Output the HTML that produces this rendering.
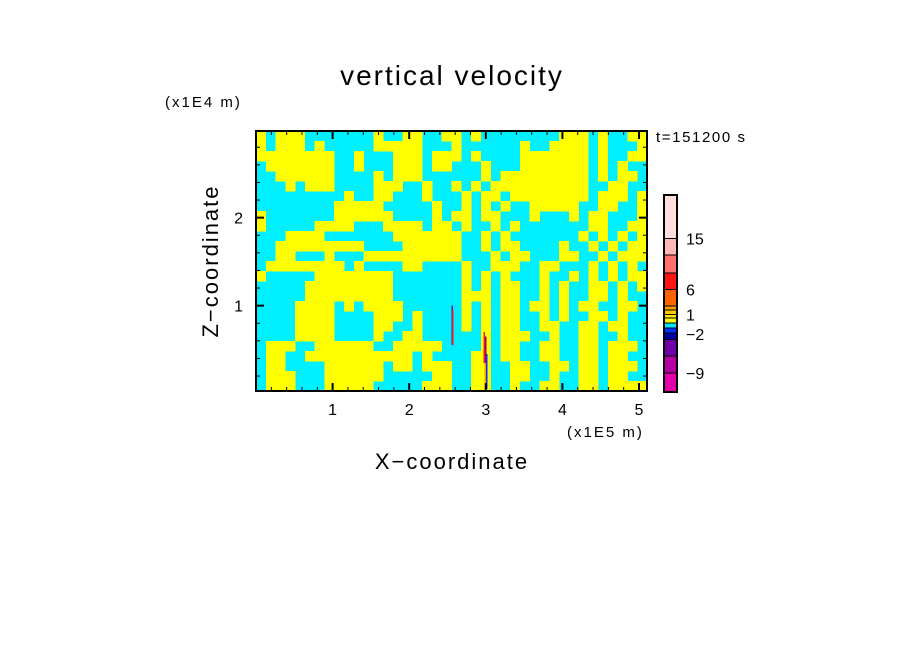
<!DOCTYPE html>
<html><head><meta charset="utf-8"><style>
body{margin:0;background:#fff;}
svg{display:block;font-family:"Liberation Sans",sans-serif;}
</style></head><body>
<svg id="chart" width="904" height="654" viewBox="0 0 904 654">
<rect width="904" height="654" fill="#fff"/>
<text x="452" y="85" font-size="28" letter-spacing="2" text-anchor="middle">vertical velocity</text>
<text x="165" y="107" font-size="15" letter-spacing="2">(x1E4 m)</text>
<text x="656" y="142" font-size="15" letter-spacing="1.6">t=151200 s</text>
<text x="567" y="437" font-size="15" letter-spacing="2">(x1E5 m)</text>
<text x="452" y="469" font-size="22" letter-spacing="2" text-anchor="middle">X−coordinate</text>
<text x="0" y="0" font-size="22" letter-spacing="2" text-anchor="middle" transform="translate(218,261) rotate(-90)">Z−coordinate</text>
<g id="field" shape-rendering="crispEdges"></g>
<g id="streaks" shape-rendering="crispEdges"></g>
<g id="axes"></g>
<g id="cbar" shape-rendering="crispEdges"></g>
</svg>
<script>
// field categories: Y = weak upward (yellow), C = weak downward (cyan)
const fieldRows = [
"YCYYYCCCCCCCYCCYYCCY"+"YCYCCCCCCCCYYYCYCCYY",
"YCYYYCYCCCCCYYYYYCCC"+"YCCCCCCYCCYYYYCYCCCY",
"YYYYYYYYCCYCCCYYYCYY"+"YCYCCCCYYYYYYYCYCCYY",
"CYYYYYYYCCYCCCYYYCYY"+"CCCYCCCYYYYYYYCYCYCC",
"CCYYYYYYCCCCYCYYYCCC"+"CCCYCYYYYYYYYYCYCYYC",
"CCCYCYYYCCCCYYYCCYCC"+"YCYCYYYYYYYYYYCCYYCC",
"CCCCCCCCCYCCYYCCCYCC"+"CYCYYCYYYYYYYYCYYYCY",
"CCCCCCCCYYYYYCCCCCYC"+"CYCYCYCCYYYYYCCYYCCY",
"YCCCCCCCYYYYYYCCCCYC"+"YYCYYCCCYCCCYCYYCCCY",
"YCCCCCYYYYCCCYYYYCYY"+"CYCCYCYCCCCCCCYYCCYY",
"CCCYYYYCCCCCCCYYYYYY"+"YCCYCYCCCCCCCYCYCYCY",
"CCYYYYYYYYYCCCCYYYYY"+"YCCYCYYCCCCYCCYCYCYY",
"CCYYCCCYCCCYYYYYYYYY"+"YCCCYCYYCCCYYCCYCYYY",
"CYYYYYYYYCYCCCCYYCCC"+"CYCCYYYCCYYCCCYCYCYC",
"YCCCCCYYYYYYYYCCCCCC"+"CYCYCYCCCYCCYCYCYCYY",
"CCCCCYYYYYYYYYCCCCCC"+"CYCYCYYCCYCYCCYYCYCY",
"CCCCCYYYYYYYYYCCCCCC"+"CYYYCYYCCYCYCCYYCYCC",
"CCCCYYYYCYCYYYYCCCCC"+"CYCYCYYCYYCYCYYCCYYC",
"CCCCYYYYCCCCYYYCYCCC"+"CYCYCYYCCYCYCCYYCYCC",
"CCCCYYYYCCCCYYCCYCCC"+"CYCYCYYCCYYCCYYCYYCC",
"CCCCYYYYCCCCYCCYYCCC"+"CCCYCYYYCCYCCYYCCYCC",
"CYYYCCYYYYYYCCYYYYYC"+"CCCYCYYCCYYCCYYCYYYC",
"CYYCCYYYYYYYYYYYCYCC"+"CCYYCYYCCYYCCYYCYYCC",
"CYYCCCCYYYYYYCYYCYYY"+"CCYYCCYYCCYYCYYCYYYC",
"CYYYCCCYYYYYYCCCCCYY"+"CCYYCCYYCCYCCYYCYYCC",
"CYYYCCCYYYYYCCCCCYYY"+"CCYYCCYCCYYCCYYCYYYY"
];
// strong-velocity streaks: [x (1E5 m), z top (1E4 m), z bottom (1E4 m), category]
const streakX = [2.55, 2.56, 2.97, 2.99, 3.0, 2.98];
const streakTop = [1.0, 0.95, 0.7, 0.65, 0.45, 0.35];
const streakBot = [0.55, 0.55, 0.35, 0.3, 0.05, 0.05];
const streakCat = ["purple","red","red","purple","blue","orange"];
// colour bar
const cbColors = ["#ffdede","#ffb8b8","#ff7070","#ff1414","#ff6400","#ff9c00","#ffc800","#ffe600","#ffff00","#00e6ff","#0032ff","#0000a0","#6e00aa","#b400a0","#e600aa"];
const cbLabels = ["15","6","1","−2","−9"];
const cbLabelIdx = [1.0, 4.0, 7.0, 11.2, 14.0];
const xTickLabels = ["1","2","3","4","5"];
const yTickLabels = ["1","2"];

const NS="http://www.w3.org/2000/svg";
const L=256,R=647,T=131,B=391;
const X0=0,X1=(R-L)/76.6, Z0=0.03, Z1=0.03+(B-T)/88;
const sx=v=>L+(v-X0)/(X1-X0)*(R-L);
const sz=v=>B-(v-Z0)/(Z1-Z0)*(B-T);
const catColor={Y:"#ffff00",C:"#00f0ff",red:"#ff1414",purple:"#8000a0",blue:"#0032ff",orange:"#ff9c00"};
function mk(tag,attrs,parent){const e=document.createElementNS(NS,tag);for(const k in attrs)e.setAttribute(k,attrs[k]);parent.appendChild(e);return e;}

const field=document.getElementById('field');
const nr=fieldRows.length,nc=fieldRows[0].length;
const cw=(R-L)/nc,ch=(B-T)/nr;
mk('rect',{x:L,y:T,width:R-L,height:B-T,fill:catColor.C},field);
for(let r=0;r<nr;r++){for(let c=0;c<nc;c++){
  const v=fieldRows[r][c]; if(v!=="Y")continue;
  const e=mk('rect',{x:(L+c*cw).toFixed(2),y:(T+r*ch).toFixed(2),width:(cw+0.3).toFixed(2),height:(ch+0.3).toFixed(2),fill:catColor[v]},field);
  
  
}}
const streaks=document.getElementById('streaks');
for(let i=0;i<streakX.length;i++){
  const e=mk('rect',{x:sx(streakX[i]),y:sz(streakTop[i]),width:1.6,height:sz(streakBot[i])-sz(streakTop[i]),fill:catColor[streakCat[i]]},streaks);
  
  
}
const axes=document.getElementById('axes');
const frame=mk('rect',{x:L,y:T,width:R-L,height:B-T,fill:"none",stroke:"#000","stroke-width":2},axes);


for(let k=1;k<=25;k++){const v=k*0.2;if(v>X1)break;const x=sx(v);const maj=Math.abs(v-Math.round(v))<1e-6;const len=maj?8:4;
  mk('line',{x1:x,y1:B,x2:x,y2:B-len,stroke:"#000","stroke-width":maj?2:1},axes);
  mk('line',{x1:x,y1:T,x2:x,y2:T+len,stroke:"#000","stroke-width":maj?2:1},axes);}
for(let k=1;k<=14;k++){const v=k*0.2;if(v>Z1)break;const y=sz(v);const maj=Math.abs(v-Math.round(v))<1e-6;const len=maj?8:4;
  mk('line',{x1:L,y1:y,x2:L+len,y2:y,stroke:"#000","stroke-width":maj?2:1},axes);
  mk('line',{x1:R,y1:y,x2:R-len,y2:y,stroke:"#000","stroke-width":maj?2:1},axes);}
xTickLabels.forEach(t=>{const e=mk('text',{x:sx(+t),y:415,"font-size":16,"text-anchor":"middle"},axes);e.textContent=t;
  
  });
yTickLabels.forEach(t=>{const e=mk('text',{x:243,y:sz(+t)+6,"font-size":16,"text-anchor":"end"},axes);e.textContent=t;
  
  });
// colorbar
const cb=document.getElementById('cbar');
const CL=664,CR=677,CT=195,CB=392;
const segH=[43.3,16.7,17.7,16.6,16.7,4,4.3,3.4,5,5,5,6.6,16.7,16.7,19];
const tot=segH.reduce((a,b)=>a+b,0);
let yy=CT;const bounds=[CT];
cbColors.forEach((c,i)=>{const h=segH[i]*(CB-CT)/tot;
  const e=mk('rect',{x:CL,y:yy,width:CR-CL,height:h,fill:c,stroke:"#000","stroke-width":1},cb);
  
  
  yy+=h;bounds.push(yy);});
const cbf=mk('rect',{x:CL,y:CT,width:CR-CL,height:CB-CT,fill:"none",stroke:"#000","stroke-width":2},cb);


cbLabels.forEach((t,i)=>{const k=Math.floor(cbLabelIdx[i]),f=cbLabelIdx[i]-k;const y=bounds[k]+f*(bounds[Math.min(k+1,bounds.length-1)]-bounds[k]);
  const e=mk('text',{x:686,y:y+6,"font-size":16},cb);e.textContent=t;
  
  });
</script>
</body></html>
